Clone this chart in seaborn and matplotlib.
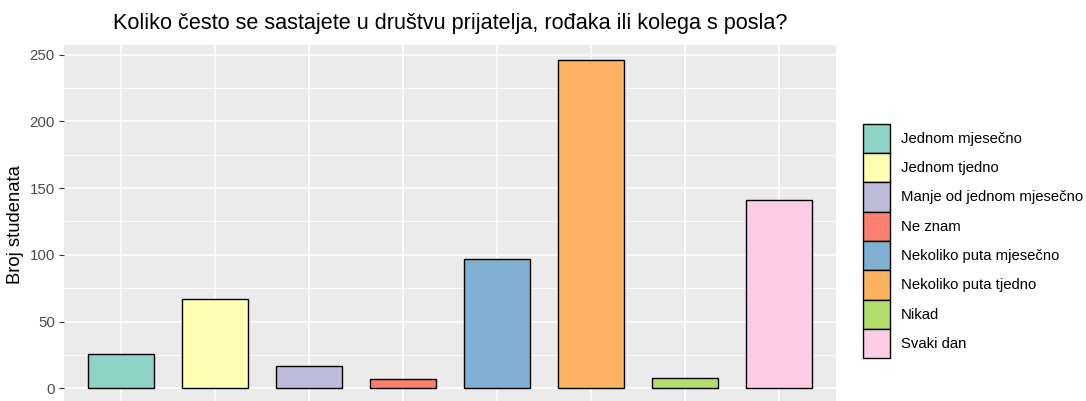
import numpy as np
import pandas as pd
import matplotlib.pyplot as plt
import matplotlib.patches as mpatches
from matplotlib.ticker import MultipleLocator
import seaborn as sns

# ── data ─────────────────────────────────────────────────────────────────────
categories = [
    "Jednom mjesečno",
    "Jednom tjedno",
    "Manje od jednom mjesečno",
    "Ne znam",
    "Nekoliko puta mjesečno",
    "Nekoliko puta tjedno",
    "Nikad",
    "Svaki dan",
]
counts = [26, 67, 17, 7, 97, 246, 8, 141]
colors = ["#8DD3C7", "#FFFFB3", "#BEBADA", "#FB8072",
          "#80B1D3", "#FDB462", "#B3DE69", "#FCCDE5"]

title = "Koliko često se sastajete u društvu prijatelja, rođaka ili kolega s posla?"
ylabel = "Broj studenata"

# ── style (ggplot-ish grey) ──────────────────────────────────────────────────
sns.set_theme(style="darkgrid", rc={
    "axes.facecolor": "#EBEBEB",
    "grid.color": "white",
    "axes.edgecolor": "none",
    "text.color": "black",
})
plt.rcParams["font.family"] = ["Liberation Sans", "DejaVu Sans"]

df = pd.DataFrame({"odgovor": categories, "broj": counts})

fig = plt.figure(figsize=(10.86, 4.01), dpi=100)
ax = fig.add_axes([64 / 1086, 1 - 404.6 / 401, (836 - 64) / 1086, (404.6 - 45) / 401])

sns.barplot(data=df, x="odgovor", y="broj", hue="odgovor", order=categories,
            palette=dict(zip(categories, colors)), saturation=1, width=0.7,
            edgecolor="black", linewidth=1.0, legend=False, ax=ax, zorder=3)

ax.set_xlim(-0.61, 7.61)
ax.set_ylim(-12.3, 257.3)
ax.yaxis.set_major_locator(MultipleLocator(50))
ax.yaxis.set_minor_locator(MultipleLocator(25))
ax.grid(which="major", color="white", lw=1.1, zorder=0)
ax.grid(which="minor", axis="y", color="white", lw=0.55, zorder=0)
ax.set_axisbelow(True)
for s in ax.spines.values():
    s.set_visible(False)

ax.tick_params(axis="y", which="major", left=True, length=3.5, width=0.8,
               color="#333333", labelsize=10.8, labelcolor="#4D4D4D", pad=3)
ax.tick_params(axis="y", which="minor", left=False)
ax.tick_params(axis="x", bottom=False, labelbottom=False)
ax.set_xlabel("")
ax.set_ylabel(ylabel, fontsize=13.3, color="black", labelpad=4)

fig.text(450 / 1086, 1 - 23 / 401, title, ha="center", va="center",
         fontsize=15.6, color="black")

handles = [mpatches.Patch(facecolor=c, edgecolor="black", linewidth=1.0, label=l)
           for l, c in zip(categories, colors)]
fig.legend(handles=handles, loc="center left",
           bbox_to_anchor=(857 / 1086, 1 - 241 / 401), frameon=False,
           fontsize=10.7, handlelength=1.8, handleheight=2.66,
           labelspacing=0.0, handletextpad=0.75, borderaxespad=0,
           labelcolor="black")

fig.savefig("out.png", dpi=100)
